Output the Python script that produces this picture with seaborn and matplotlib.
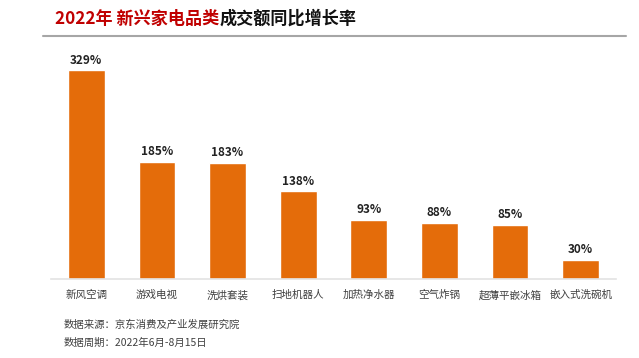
import matplotlib
matplotlib.use("Agg")
import matplotlib.pyplot as plt
from matplotlib.lines import Line2D
import seaborn as sns
import pandas as pd

# ---------------------------------- data ----------------------------------
categories = ["新风空调", "游戏电视", "洗烘套装", "扫地机器人", "加热净水器", "空气炸锅", "超薄平嵌冰箱", "嵌入式洗碗机"]
growth = [329, 185, 183, 138, 93, 88, 85, 30]
title_red = "2022年 新兴家电品类"
title_black = "成交额同比增长率"
source_lines = ["数据来源：京东消费及产业发展研究院", "数据周期：2022年6月-8月15日"]

df = pd.DataFrame({"cat": categories, "val": growth})

sns.set_style("white")
plt.rcParams['font.family'] = ['Noto Sans CJK SC', 'DejaVu Sans']

W, H = 639, 358
fig = plt.figure(figsize=(W / 100, H / 100), dpi=100)
ax = fig.add_axes([51 / W, 79 / H, (616 - 51) / W, (279 - 57) / H])

sns.barplot(data=df, x="cat", y="val", color="#E46C0A", width=0.52,
            saturation=1, ax=ax)
ax.set_ylim(0, 350)
ax.set_xlim(-0.5, len(categories) - 0.5)

for i, v in enumerate(growth):
    ax.text(i, v + 6, f"{v}%", ha="center", va="bottom", fontsize=8.5,
            fontweight="bold", color="#222222")

for s in ["top", "right", "left"]:
    ax.spines[s].set_visible(False)
ax.spines["bottom"].set_color("#E3E3E3")
ax.spines["bottom"].set_linewidth(1.2)
ax.set_yticks([])
ax.set_xlabel("")
ax.set_ylabel("")
ax.tick_params(axis="x", length=0, pad=8, labelsize=7.6, labelcolor="#404040")

# title in two colours
t1 = fig.text(55 / W, 1 - 19 / H, title_red, color="#C00000", fontsize=12.3,
              fontweight="bold", va="center", ha="left")
fig.canvas.draw()
bb = t1.get_window_extent(renderer=fig.canvas.get_renderer())
fig.text(bb.x1 / W, 1 - 19 / H, title_black, color="#111111", fontsize=12.3,
         fontweight="bold", va="center", ha="left")
fig.add_artist(Line2D([43 / W, 626 / W], [1 - 36 / H, 1 - 36 / H],
                      color="#A6A6A6", linewidth=1.5, transform=fig.transFigure))

fig.text(64 / W, 1 - 325 / H, source_lines[0], fontsize=7.5, color="#404040", va="center")
fig.text(64 / W, 1 - 343 / H, source_lines[1], fontsize=7.5, color="#404040", va="center")

fig.savefig("out.png", dpi=100)
